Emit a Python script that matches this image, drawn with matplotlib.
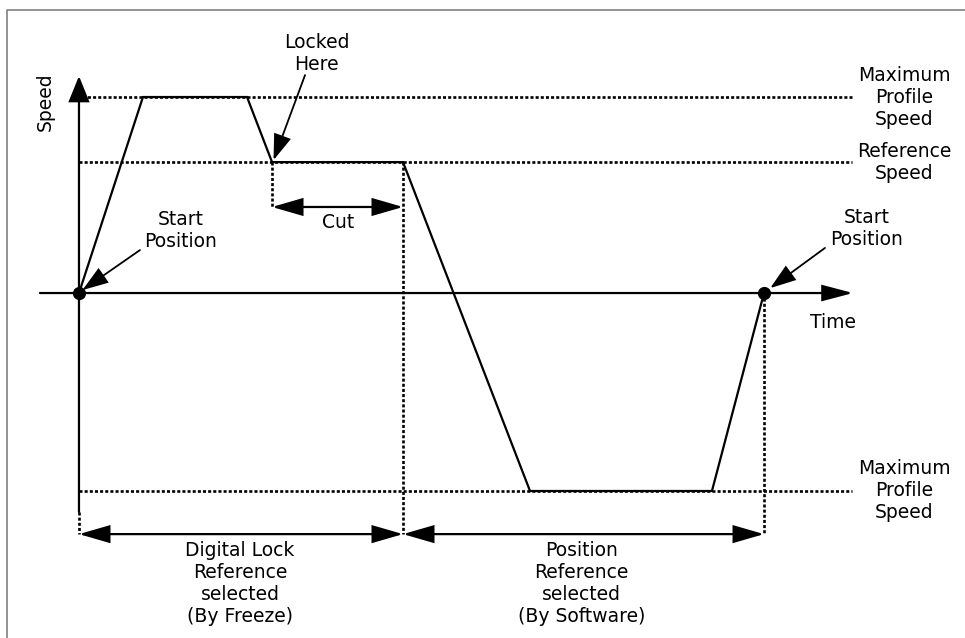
import matplotlib
matplotlib.use("Agg")
import matplotlib.pyplot as plt

# ---- data (time units, speed units) ----
profile_t = [0, 9.34, 24.53, 28.18, 47.3, 65.84, 92.4, 100]
profile_s = [0, 100, 100, 66.8, 66.8, -101, -101, 0]

max_speed = 100
ref_speed = 66.8
neg_max_speed = -101
lock_t = 28.18
switch_t = 47.3
end_t = 100

level_labels = ["Maximum\nProfile\nSpeed", "Reference\nSpeed", "Maximum\nProfile\nSpeed"]
level_values = [max_speed, ref_speed, neg_max_speed]
span_labels = ["Digital Lock\nReference\nselected\n(By Freeze)",
               "Position\nReference\nselected\n(By Software)"]

plt.rcParams['font.family'] = ['DejaVu Sans']
FS = 13.5

fig = plt.figure(figsize=(9.65, 6.38), dpi=100)
ax = fig.add_axes([0, 0, 1, 1])
ax.set_xlim(-11.53, 129.34)
ax.set_ylim(-176.0, 149.5)
ax.axis('off')

DLW = 1.9
DOT = (0, (1.15, 0.8))
LW = 1.6

# border
ax.plot([0.0073, 0.0073, 1.01], [-0.01, 0.9843, 0.9843], transform=ax.transAxes,
        color='#808080', lw=1.2, clip_on=False)

# dotted speed levels
ax.plot([-1.0, 112.8], [max_speed, max_speed], color='black', lw=DLW, ls=DOT)
ax.plot([0, 112.8], [ref_speed, ref_speed], color='black', lw=DLW, ls=DOT)
ax.plot([0, 112.8], [neg_max_speed, neg_max_speed], color='black', lw=DLW, ls=DOT)

dim_s = -123
cut_s = 43.9
# dotted verticals
ax.plot([lock_t, lock_t], [ref_speed, cut_s], color='black', lw=DLW, ls=DOT)
ax.plot([switch_t, switch_t], [ref_speed, dim_s], color='black', lw=DLW, ls=DOT)
ax.plot([end_t, end_t], [0, dim_s], color='black', lw=DLW, ls=DOT)
ax.plot([0, 0], [-111.7, dim_s], color='black', lw=DLW, ls=DOT)

# profile
ax.plot(profile_t, profile_s, color='black', lw=LW, solid_joinstyle='miter')

def arrow(x0, y0, x1, y1, style='-|>', hl=1.9, hw=0.5, lw=LW):
    ax.annotate('', xy=(x1, y1), xytext=(x0, y0),
                arrowprops=dict(arrowstyle=f'{style},head_length={hl},head_width={hw}',
                                mutation_scale=10, shrinkA=0, shrinkB=0,
                                lw=lw, color='black', joinstyle='miter'))

# axes
arrow(0, -111.7, 0, 110.7, hl=1.6, hw=0.65)
arrow(-5.7, 0, 113.0, 0, hl=1.9, hw=0.5)

# dimension arrows
arrow(0, dim_s, switch_t, dim_s, style='<|-|>', hl=1.9, hw=0.55)
arrow(switch_t, dim_s, end_t, dim_s, style='<|-|>', hl=1.9, hw=0.55)
arrow(lock_t, cut_s, switch_t, cut_s, style='<|-|>', hl=1.9, hw=0.55)

# pointer arrows
arrow(33.0, 111.2, 28.4, 67.8, hl=1.6, hw=0.55, lw=1.3)
arrow(8.9, 21.9, 0.5, 1.5, hl=1.6, hw=0.55, lw=1.3)
arrow(108.9, 23.0, 100.9, 2.5, hl=1.6, hw=0.55, lw=1.3)

# dots
ax.plot([0, end_t], [0, 0], 'o', color='black', ms=8.5, zorder=5)

# texts
kw = dict(ha='center', va='center', fontsize=FS, linespacing=1.2, color='black')
ax.text(-4.96, 97.4, "Speed", rotation=90, **kw)
ax.text(34.7, 122.4, "Locked\nHere", **kw)
ax.text(14.9, 32.1, "Start\nPosition", **kw)
ax.text(37.8, 36.2, "Cut", **kw)
ax.text(115.0, 32.7, "Start\nPosition", **kw)
ax.text(110.0, -14.8, "Time", **kw)
for lab, val in zip(level_labels, level_values):
    ax.text(120.5, val, lab, **kw)
ax.text(23.5, -148, span_labels[0], **kw)
ax.text(73.4, -148, span_labels[1], **kw)

fig.savefig("out.png", dpi=100)
